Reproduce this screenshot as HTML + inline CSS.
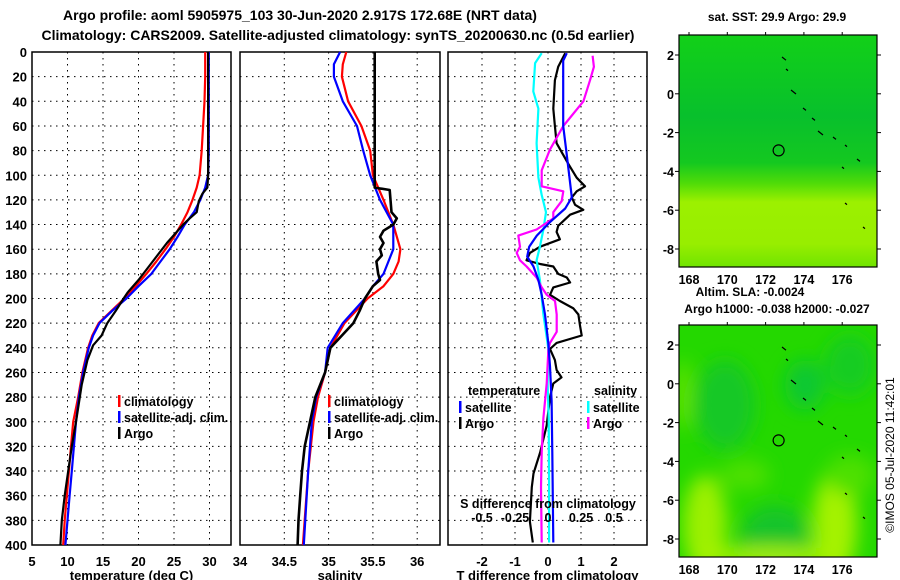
<!DOCTYPE html>
<html><head><meta charset="utf-8">
<style>
body{margin:0;background:#fff;}
svg{display:block;font-family:"Liberation Sans",sans-serif;font-weight:bold;}
</style></head>
<body>
<svg id="c" width="900" height="580" viewBox="0 0 900 580">
<defs>
<linearGradient id="sstg" x1="0" y1="0" x2="0" y2="1">
<stop offset="0" stop-color="#12d018"/><stop offset="0.35" stop-color="#08c02c"/><stop offset="0.55" stop-color="#14c820"/>
<stop offset="0.64" stop-color="#50dc08"/><stop offset="0.72" stop-color="#9cf000"/><stop offset="0.9" stop-color="#98ee00"/><stop offset="1" stop-color="#70e400"/>
</linearGradient>
<filter id="bl"><feGaussianBlur stdDeviation="9"/></filter>
<clipPath id="m1"><rect x="679" y="35" width="198" height="232"/></clipPath>
<clipPath id="m2"><rect x="679" y="325" width="198" height="232"/></clipPath>
</defs>
<g font-size="14" text-anchor="middle">
<text x="300" y="20">Argo profile: aoml 5905975_103 30-Jun-2020 2.917S 172.68E (NRT data)</text>
<text x="338" y="40">Climatology: CARS2009. Satellite-adjusted climatology: synTS_20200630.nc (0.5d earlier)</text>
</g>
<g id="panels"></g>
<g id="maps"></g>
</svg>
<script>
// ---- data: depth (m) and values ----
const tClimDepth=[0,20,40,60,80,100,110,120,130,140,150,160,170,180,190,200,210,220,230,240,260,280,300,320,340,360,380,400];
const tClimVal=[29.4,29.4,29.3,29.1,28.9,28.6,28.2,27.6,26.9,26.0,25.0,23.8,22.5,21.1,19.6,18.0,16.2,14.4,13.5,12.9,12.1,11.5,10.8,10.5,10.2,9.9,9.6,9.4];
const tSatDepth=[0,20,40,60,80,100,110,120,130,140,150,160,170,180,190,200,210,220,230,240,260,280,300,320,340,360,380,400];
const tSatVal=[29.9,29.9,29.9,29.9,29.9,29.8,29.4,28.7,27.8,26.5,25.5,24.4,23.1,21.8,20.0,18.3,16.3,14.5,13.6,13.0,12.2,11.6,11.2,10.9,10.6,10.3,10.0,9.7];
const tArgoDepth=[0,20,40,60,80,100,110,115,121,130,135,140,155,170,185,195,200,210,220,230,238,250,270,300,320,340,360,380,400];
const tArgoVal=[29.8,29.8,29.8,29.8,29.8,29.8,29.7,29.0,28.5,28.2,27.2,26.3,24.0,22.0,20.0,18.5,17.9,16.8,15.6,14.8,13.6,12.8,12.0,11.2,10.6,10.1,9.6,9.2,9.0];
const sClimDepth=[0,10,20,40,60,80,100,120,140,160,170,180,190,200,220,240,260,280,300,340,400];
const sClimVal=[35.20,35.16,35.15,35.22,35.37,35.47,35.50,35.62,35.73,35.81,35.79,35.73,35.62,35.44,35.18,35.02,34.96,34.88,34.83,34.77,34.71];
const sSatDepth=[0,10,20,40,60,80,100,120,140,160,180,190,200,220,240,260,280,300,340,400];
const sSatVal=[35.13,35.06,35.06,35.16,35.32,35.39,35.47,35.58,35.73,35.73,35.62,35.50,35.41,35.16,34.99,34.96,34.86,34.81,34.77,34.72];
const sArgoDepth=[0,108,110,112,130,135,140,145,150,155,160,165,170,180,185,190,200,210,220,230,240,260,280,300,320,340,360,380,400];
const sArgoVal=[35.52,35.52,35.52,35.69,35.71,35.77,35.73,35.62,35.58,35.62,35.58,35.60,35.54,35.56,35.58,35.50,35.41,35.35,35.28,35.15,35.02,34.96,34.85,34.79,34.73,34.70,34.68,34.66,34.65];
const dTSatDepth=[1,7,60,79,102,118,127,138,149,158,166,174,185,197,213,236,255,283,325,398];
const dTSatVal=[0.57,0.46,0.46,0.55,0.65,0.72,0.52,0.06,-0.34,-0.57,-0.63,-0.44,-0.29,-0.19,-0.09,0.01,0.06,0.11,0.13,0.16];
const dTArgoDepth=[1,12,23,46,60,74,91,102,109,113,118,124,128,132,141,146,152,158,163,169,172,174,180,183,187,191,197,202,208,213,222,230,236,241,250,258,264,269,280,303,325,342,353,381,398];
const dTArgoVal=[0.52,0.31,0.21,0.16,0.21,0.26,0.62,0.87,1.12,0.87,0.72,0.82,1.07,0.67,0.31,0.26,0.36,-0.24,-0.55,-0.65,-0.24,0.16,0.31,0.57,0.67,0.16,0.06,0.36,0.77,0.92,0.97,1.02,0.26,0.06,0.21,0.26,0.41,0.16,0.06,-0.04,-0.24,-0.44,-0.49,-0.55,-0.46];
const dSSatDepth=[1,9,32,46,74,102,116,130,144,158,169,185,213,241,269,297,353,398];
const dSSatVal=[-0.048,-0.098,-0.111,-0.073,-0.086,-0.073,-0.048,-0.015,-0.035,-0.061,-0.086,-0.061,-0.035,0.003,-0.003,0.005,0.008,0.008];
const dSArgoDepth=[3,12,23,40,60,79,96,109,113,121,130,135,144,149,158,163,169,174,183,191,197,202,213,227,236,241,269,297,325,353,398];
const dSArgoVal=[0.338,0.348,0.318,0.268,0.116,0.015,-0.048,-0.048,0.116,0.104,0.040,0.040,-0.086,-0.225,-0.212,-0.237,-0.212,-0.162,-0.086,-0.048,-0.010,0.053,0.066,0.066,0.015,0.003,-0.010,-0.035,-0.048,-0.053,-0.048];
const depthTicks=[0,20,40,60,80,100,120,140,160,180,200,220,240,260,280,300,320,340,360,380,400];
const tTicks=[5,10,15,20,25,30];
const sTicks=[34,34.5,35,35.5,36];
const dTTicks=[-2,-1,0,1,2];
const dSTicks=[-0.5,-0.25,0,0.25,0.5];
const latTicks=[2,0,-2,-4,-6,-8];
const lonTicks=[168,170,172,174,176];

// ---- axes ----
const Y0=52,Y1=545;
const yD=d=>Y0+(Y1-Y0)*d/400;
const xT=t=>32+(t-5)*7.1;
const xS=s=>240+(s-34)*88.6;
const xDT=v=>548+v*33;
const xDS=v=>548+v*132;
const NS='http://www.w3.org/2000/svg';
function mk(tag,attrs,parent,txt){const e=document.createElementNS(NS,tag);for(const k in attrs)e.setAttribute(k,attrs[k]);if(txt!==undefined)e.textContent=txt;parent.appendChild(e);return e;}
const P=document.getElementById('panels');

function panel(name,x0,x1,xs,ticks,fmt,label,showY){
  const g=mk('g',{},P);
  
  
  mk('rect',{x:x0,y:Y0,width:x1-x0,height:Y1-Y0,fill:'none',stroke:'#000','stroke-width':1.5},g);
  depthTicks.forEach(d=>{if(d>0&&d<400)mk('line',{x1:x0,x2:x1,y1:yD(d),y2:yD(d),stroke:'#000','stroke-dasharray':'1.5,4.5','stroke-width':1},g);});
  ticks.forEach(t=>{const x=xs(t);if(x>x0+1&&x<x1-1)mk('line',{x1:x,x2:x,y1:Y0,y2:Y1,stroke:'#000','stroke-dasharray':'1.5,4.5','stroke-width':1},g);
    const tl=mk('text',{x:x,y:566,'font-size':13,'text-anchor':'middle'},g,fmt(t));
    
    });
  if(label){const l=mk('text',{x:(x0+x1)/2,y:580,'font-size':13,'text-anchor':'middle'},g,label);
    
    }
  if(showY){depthTicks.forEach(d=>{const t=mk('text',{x:27,y:yD(d)+5,'font-size':13,'text-anchor':'end'},g,String(d));
    
    });}
  return g;
}
function line(g,ds,vs,xs,col,name,w){
  const pts=ds.map((d,i)=>xs(vs[i]).toFixed(1)+','+yD(d).toFixed(1)).join(' ');
  const p=mk('polyline',{points:pts,fill:'none',stroke:col,'stroke-width':w||2.2,'stroke-linejoin':'round'},g);
  
  
}
function legend(g,x,y,items){
  items.forEach((it,i)=>{const yy=y+i*16;
    mk('rect',{x:x,y:yy-9,width:2.5,height:12,fill:it[1]},g);
    const t=mk('text',{x:x+6,y:yy+2,'font-size':12.5},g,it[0]);
    
    });
}
const g1=panel('temperature',32,231,xT,tTicks,String,'temperature (deg C)',true);
line(g1,tClimDepth,tClimVal,xT,'#f00','temp-climatology-line');
line(g1,tSatDepth,tSatVal,xT,'#00f','temp-satellite-line');
line(g1,tArgoDepth,tArgoVal,xT,'#000','temp-argo-line');
legend(g1,118,404,[['climatology','#f00'],['satellite-adj. clim.','#00f'],['Argo','#000']]);

const g2=panel('salinity',240,440,xS,sTicks,String,'salinity',false);
line(g2,sClimDepth,sClimVal,xS,'#f00','sal-climatology-line');
line(g2,sSatDepth,sSatVal,xS,'#00f','sal-satellite-line');
line(g2,sArgoDepth,sArgoVal,xS,'#000','sal-argo-line',2.6);
legend(g2,328,404,[['climatology','#f00'],['satellite-adj. clim.','#00f'],['Argo','#000']]);

const g3=panel('difference',448,647,xDT,dTTicks,String,'T difference from climatology',false);
line(g3,dTArgoDepth,dTArgoVal,xDT,'#000','tdiff-argo-line');
line(g3,dSSatDepth,dSSatVal,xDS,'#0ff','sdiff-satellite-line');
line(g3,dSArgoDepth,dSArgoVal,xDS,'#f0f','sdiff-argo-line');
line(g3,dTSatDepth,dTSatVal,xDT,'#00f','tdiff-satellite-line');
{const t=mk('text',{x:468,y:395,'font-size':12.5},g3,'temperature');
 const s=mk('text',{x:594,y:395,'font-size':12.5},g3,'salinity');}
legend(g3,459,410,[['satellite','#00f'],['Argo','#000']]);
legend(g3,587,410,[['satellite','#0ff'],['Argo','#f0f']]);
{const t=mk('text',{x:548,y:508,'font-size':12.5,'text-anchor':'middle'},g3,'S difference from climatology');}
dSTicks.forEach(v=>{const t=mk('text',{x:xDS(v),y:522,'font-size':12.5,'text-anchor':'middle'},g3,String(v));
  
  });

// ---- maps ----
const M=document.getElementById('maps');
const lonX=l=>689+(l-168)*19.15;
function map(name,top,title,isSst){
  const g=mk('g',{},M);
  
  
  const latY=l=>top+20+(2-l)*19.4;
  const cg=mk('g',{'clip-path':'url(#'+(isSst?'m1':'m2')+')'},g);
  if(isSst){
    mk('rect',{x:679,y:top,width:198,height:232,fill:'url(#sstg)'},cg);
  } else {
    mk('rect',{x:679,y:top,width:198,height:232,fill:'#24d800'},cg);
    const bf=mk('g',{filter:'url(#bl)'},cg);
    [[725,top+80,30,45,'#12c828'],[775,top+215,35,35,'#14c42a'],[850,top+40,25,30,'#16cc20'],[805,top+60,20,25,'#10c830'],
     [705,top+200,22,50,'#9cf000'],[835,top+200,22,55,'#a4f200'],[683,top+70,6,35,'#7ae800'],[770,top+232,80,10,'#a8f200'],[745,top+150,25,15,'#4ee000'],[850,top+150,25,20,'#4ee000']]
      .forEach(e=>mk('ellipse',{cx:e[0],cy:e[1],rx:e[2],ry:e[3],fill:e[4]},bf));
  }
  // islands
  [[782,top+22,4],[786,top+34,2],[791,top+55,5],[803,top+73,3],[812,top+83,3],[818,top+96,5],[833,top+102,3],[845,top+110,2],[857,top+124,3],[842,top+132,2],[845,top+168,2],[863,top+192,2]]
    .forEach(p=>mk('line',{x1:p[0],y1:p[1],x2:p[0]+p[2],y2:p[1]+p[2]*0.8,stroke:'#000','stroke-width':1.2},cg));
  const c=mk('circle',{cx:lonX(172.68),cy:latY(-2.917),r:5.5,fill:'none',stroke:'#000','stroke-width':1.2},g);
  
  
  mk('rect',{x:679,y:top,width:198,height:232,fill:'none',stroke:'#000','stroke-width':1.2},g);
  latTicks.forEach(l=>{mk('line',{x1:675,x2:679,y1:latY(l),y2:latY(l),stroke:'#000'},g);mk('line',{x1:877,x2:881,y1:latY(l),y2:latY(l),stroke:'#000'},g);
    const t=mk('text',{x:674,y:latY(l)+5,'font-size':12.5,'text-anchor':'end'},g,String(l));
    
    });
  lonTicks.forEach(l=>{mk('line',{x1:lonX(l),x2:lonX(l),y1:top-3,y2:top,stroke:'#000'},g);
    const t=mk('text',{x:lonX(l),y:top+249,'font-size':12.5,'text-anchor':'middle'},g,String(l));
    
    });
  title.forEach(tt=>{const t=mk('text',{x:tt[0],y:tt[1],'font-size':12,'text-anchor':'middle'},g,tt[2]);
    
    });
}
map('sst-map',35,[[777,21,'sat. SST: 29.9 Argo: 29.9']],true);
map('sla-map',325,[[750,296,'Altim. SLA: -0.0024'],[777,313,'Argo h1000: -0.038 h2000: -0.027']],false);
{const t=mk('text',{x:0,y:0,'font-size':12,'font-weight':'normal','text-anchor':'middle',transform:'translate(894,455) rotate(-90)'},M,'©IMOS 05-Jul-2020 11:42:01');
 
 }
</script>
</body></html>
